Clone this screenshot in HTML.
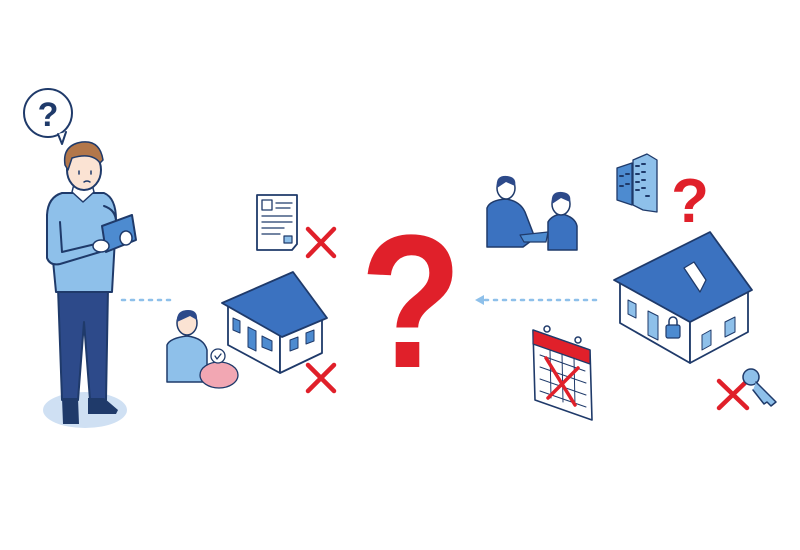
<!DOCTYPE html>
<html><head><meta charset="utf-8"><style>html,body{margin:0;padding:0;background:#fff}svg{display:block}</style></head>
<body>
<svg width="800" height="550" viewBox="0 0 800 550" xmlns="http://www.w3.org/2000/svg" stroke-linejoin="round" stroke-linecap="round">
<!-- left man -->
<ellipse cx="85" cy="410" rx="42" ry="18" fill="#cfe0f3"/>
<circle cx="48" cy="113" r="24" fill="#fff" stroke="#1f3a6a" stroke-width="2"/>
<path d="M58,134 L62,144 L66,132" fill="#fff" stroke="#1f3a6a" stroke-width="2"/>
<text x="48" y="126" font-family="Liberation Sans,sans-serif" font-weight="bold" font-size="34" fill="#1f3a6a" text-anchor="middle">?</text>
<path d="M58,288 L108,288 L106,400 L90,400 L84,322 L78,400 L62,400 Z" fill="#2d4a8a" stroke="#1f3a6a" stroke-width="2"/>
<path d="M62,398 L78,398 L79,424 L63,424 Z M88,398 L104,398 L118,410 L116,414 L88,414 Z" fill="#1f3a6a"/>
<path d="M62,193 L104,193 Q116,198 116,220 L112,292 L56,292 L52,250 L47,215 Q48,197 62,193 Z" fill="#8ec0ea" stroke="#1f3a6a" stroke-width="2"/>
<path d="M47,215 L47,258 Q50,266 60,264 L100,252 L104,242 L62,252 L60,222" fill="#8ec0ea" stroke="#1f3a6a" stroke-width="2"/>
<path d="M104,206 Q116,210 116,222 L112,246 L104,244" fill="#8ec0ea" stroke="#1f3a6a" stroke-width="2"/>
<path d="M102,226 L132,215 L136,240 L106,252 Z" fill="#4d8bd0" stroke="#1f3a6a" stroke-width="2"/>
<ellipse cx="101" cy="246" rx="8" ry="6" fill="#fff" stroke="#1f3a6a" stroke-width="1.5"/>
<ellipse cx="126" cy="238" rx="6" ry="7" fill="#fff" stroke="#1f3a6a" stroke-width="1.5"/>
<path d="M72,192 L83,202 L94,192 L92,184 L74,184 Z" fill="#fff" stroke="#1f3a6a" stroke-width="1.5"/>
<ellipse cx="84" cy="170" rx="17" ry="20" fill="#fbe3d3" stroke="#1f3a6a" stroke-width="2"/>
<path d="M65,165 Q62,145 82,142 Q100,140 103,160 L100,163 Q92,152 72,158 L68,170 Z" fill="#b3774a" stroke="#1f3a6a" stroke-width="1.5"/>
<path d="M79,171 v3 M91,171 v3 M84,182 q3,-2 6,0" stroke="#1f3a6a" stroke-width="1.5" fill="none"/>
<!-- dotted line left -->
<line x1="122" y1="300" x2="175" y2="300" stroke="#8ec0ea" stroke-width="2.5" stroke-dasharray="3,6"/>
<!-- document -->
<path d="M257,195 L297,195 L297,244 L292,250 L257,250 Z" fill="#fff" stroke="#1f3a6a" stroke-width="1.8"/>
<rect x="262" y="200" width="10" height="10" fill="none" stroke="#1f3a6a" stroke-width="1.3"/>
<path d="M276,203 H292 M276,208 H290 M262,216 H292 M262,222 H292 M262,228 H284 M262,234 H280" stroke="#1f3a6a" stroke-width="1.3"/>
<rect x="284" y="236" width="8" height="7" fill="#8ec0ea" stroke="#1f3a6a" stroke-width="1.2"/>
<!-- red X's -->
<g stroke="#e0202a" stroke-width="4.5">
<path d="M308,229 L334,256 M334,229 L308,256"/>
<path d="M308,365 L334,391 M334,365 L308,391"/>
<path d="M719,381 L747,408 M747,381 L719,408"/>
</g>
<!-- left house -->
<path d="M228,303 L228,345 L280,373 L280,330 Z" fill="#fff" stroke="#1f3a6a" stroke-width="1.8"/>
<path d="M280,330 L280,373 L322,353 L322,315 Z" fill="#fff" stroke="#1f3a6a" stroke-width="1.8"/>
<path d="M222,303 L293,272 L327,318 L282,337 Z" fill="#3b72c0" stroke="#1f3a6a" stroke-width="1.8"/>
<path d="M233,318 L240,321 L240,333 L233,330 Z M248,327 L256,331 L256,351 L248,347 Z M262,336 L272,341 L272,351 L262,347 Z M290,340 L298,337 L298,348 L290,351 Z M306,333 L314,330 L314,341 L306,344 Z" fill="#4d8bd0" stroke="#1f3a6a" stroke-width="1"/>
<!-- piggy person -->
<path d="M167,345 Q170,338 187,336 Q204,338 207,350 L207,382 L167,382 Z" fill="#8ec0ea" stroke="#1f3a6a" stroke-width="1.5"/>
<ellipse cx="187" cy="323" rx="10" ry="12" fill="#fbe3d3" stroke="#1f3a6a" stroke-width="1.5"/>
<path d="M177,322 Q176,310 188,310 Q198,310 197,320 L190,316 Z" fill="#2d4a8a"/>
<ellipse cx="219" cy="375" rx="19" ry="13" fill="#f2a7b3" stroke="#1f3a6a" stroke-width="1.3"/>
<circle cx="218" cy="356" r="7" fill="#fff" stroke="#1f3a6a" stroke-width="1.3"/>
<path d="M215,356 l2,3 l4,-5" stroke="#1f3a6a" fill="none" stroke-width="1.3"/>
<!-- big question -->
<text x="411" y="367" font-family="Liberation Sans,sans-serif" font-weight="bold" font-size="190" fill="#e0202a" text-anchor="middle" transform="translate(411,0) scale(0.88,1) translate(-411,0)">?</text>
<!-- dashed arrow -->
<line x1="485" y1="300" x2="602" y2="300" stroke="#8ec0ea" stroke-width="2.5" stroke-dasharray="3,6"/>
<path d="M475,300 L484,295 L484,305 Z" fill="#8ec0ea"/>
<!-- handshake -->
<path d="M487,247 L487,208 Q490,200 506,199 Q520,201 525,212 L535,238 L523,247 Z" fill="#3b72c0" stroke="#1f3a6a" stroke-width="1.5"/>
<path d="M548,250 L548,222 Q552,215 562,214 Q575,217 577,226 L577,250 Z" fill="#3b72c0" stroke="#1f3a6a" stroke-width="1.5"/>
<path d="M520,235 L548,232 L546,242 L524,242 Z" fill="#4d8bd0" stroke="#1f3a6a" stroke-width="1.2"/>
<ellipse cx="506" cy="188" rx="9" ry="11" fill="#fff" stroke="#1f3a6a" stroke-width="1.5"/>
<path d="M497,188 Q495,175 507,176 Q517,177 515,186 L506,182 Z" fill="#2d4a8a"/>
<ellipse cx="561" cy="204" rx="9" ry="11" fill="#fff" stroke="#1f3a6a" stroke-width="1.5"/>
<path d="M552,204 Q550,191 562,192 Q572,193 570,202 L561,198 Z" fill="#2d4a8a"/>
<!-- buildings -->
<path d="M617,168 L632,163 L632,205 L617,200 Z" fill="#4d8bd0" stroke="#1f3a6a" stroke-width="1.3"/>
<path d="M633,160 L647,154 L657,160 L657,212 L643,210 L633,205 Z" fill="#8ec0ea" stroke="#1f3a6a" stroke-width="1.3"/>
<path d="M636,166 h3 M642,164 h3 M636,174 h3 M642,172 h3 M636,182 h3 M642,180 h3 M636,190 h3 M642,188 h3 M646,196 h3 M620,176 h3 M626,174 h3 M620,186 h3 M626,184 h3" stroke="#1f3a6a" stroke-width="2"/>
<text x="690" y="222" font-family="Liberation Sans,sans-serif" font-weight="bold" font-size="62" fill="#e0202a" text-anchor="middle">?</text>
<!-- right house -->
<path d="M620,283 L620,323 L690,363 L690,322 Z" fill="#fff" stroke="#1f3a6a" stroke-width="1.8"/>
<path d="M690,322 L690,363 L748,332 L748,292 Z" fill="#fff" stroke="#1f3a6a" stroke-width="1.8"/>
<path d="M614,280 L710,232 L752,290 L690,322 Z" fill="#3b72c0" stroke="#1f3a6a" stroke-width="1.8"/>
<path d="M684,268 L694,262 L706,280 L700,292 Z" fill="#fff" stroke="#1f3a6a" stroke-width="1.3"/>
<path d="M628,300 L636,304 L636,318 L628,314 Z M648,311 L658,316 L658,340 L648,335 Z M702,335 L711,330 L711,345 L702,350 Z M725,322 L735,317 L735,332 L725,337 Z" fill="#8ec0ea" stroke="#1f3a6a" stroke-width="1"/>
<rect x="666" y="325" width="14" height="13" rx="2" fill="#4d8bd0" stroke="#1f3a6a" stroke-width="1.2"/>
<path d="M669,325 v-4 a4,4 0 0 1 8,0 v4" fill="none" stroke="#1f3a6a" stroke-width="1.5"/>
<!-- calendar -->
<path d="M533,330 L590,350 L592,420 L535,400 Z" fill="#fff" stroke="#1f3a6a" stroke-width="1.6"/>
<path d="M533,330 L590,350 L590,364 L533,344 Z" fill="#e0202a" stroke="#1f3a6a" stroke-width="1.2"/>
<path d="M540,355 L585,371 M540,367 L586,383 M540,379 L586,395 M540,391 L586,407 M550,350 L551,398 M562,354 L563,402 M574,358 L575,406" stroke="#1f3a6a" stroke-width="1"/>
<path d="M546,358 L575,405 M578,368 L548,398" stroke="#e0202a" stroke-width="3.5"/>
<circle cx="547" cy="329" r="3" fill="none" stroke="#1f3a6a" stroke-width="1.5"/>
<circle cx="578" cy="340" r="3" fill="none" stroke="#1f3a6a" stroke-width="1.5"/>
<!-- key -->
<circle cx="751" cy="377" r="8" fill="#8ec0ea" stroke="#1f3a6a" stroke-width="1.5"/>
<path d="M756,382 L776,402 L771,406 L767,402 L764,404 L753,390" fill="#8ec0ea" stroke="#1f3a6a" stroke-width="1.5"/>
</svg>
</body></html>
